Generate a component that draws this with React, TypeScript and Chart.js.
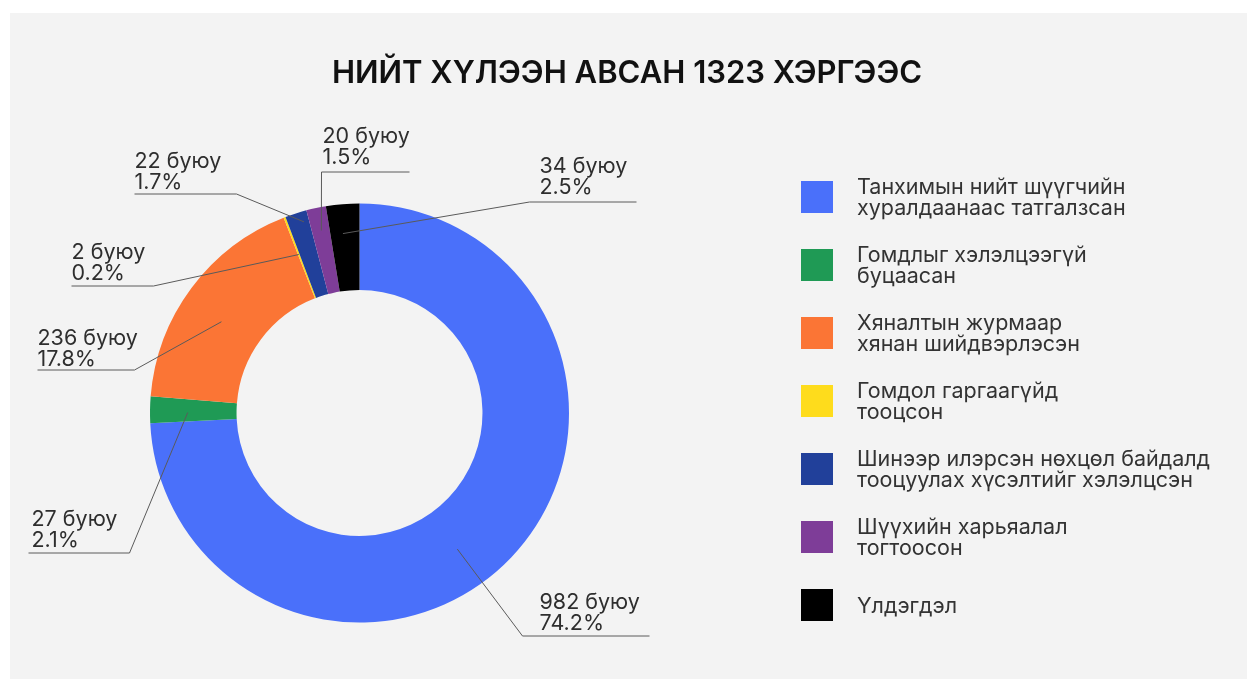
import React, { useEffect, useRef } from "react";
import { Chart, registerables } from "chart.js";

Chart.register(...registerables);

const TITLE = "НИЙТ ХҮЛЭЭН АВСАН 1323 ХЭРГЭЭС";

const categories: string[][] = [
  ["Танхимын нийт шүүгчийн", "хуралдаанаас татгалзсан"],
  ["Гомдлыг хэлэлцээгүй", "буцаасан"],
  ["Хяналтын журмаар", "хянан шийдвэрлэсэн"],
  ["Гомдол гаргаагүйд", "тооцсон"],
  ["Шинээр илэрсэн нөхцөл байдалд", "тооцуулах хүсэлтийг хэлэлцсэн"],
  ["Шүүхийн харьяалал", "тогтоосон"],
  ["Үлдэгдэл"],
];

const counts: number[] = [982, 27, 236, 2, 22, 20, 34];
const percentLabels: string[] = ["74.2%", "2.1%", "17.8%", "0.2%", "1.7%", "1.5%", "2.5%"];
const colors: string[] = ["#4a70fa", "#1f9a55", "#fb7535", "#fedc1c", "#21409a", "#7e3d98", "#000000"];

// Callout layout, in px relative to the doughnut centre (t: position along the arc, rf: fraction of outer radius)
type Callout = { t: number; rf: number; tx: number; b1: number; uy: number; ux1: number; ux2: number; side: "left" | "right" };
const callouts: Callout[] = [
  { t: 0.54, rf: 0.8, tx: 180, b1: 196, uy: 223, ux1: 163, ux2: 290, side: "left" },
  { t: 0.4, rf: 0.82, tx: -328, b1: 113, uy: 140, ux1: -331, ux2: -230, side: "right" },
  { t: 0.45, rf: 0.79, tx: -322, b1: -68, uy: -43, ux1: -322, ux2: -225, side: "right" },
  { t: 0.5, rf: 0.81, tx: -288, b1: -154, uy: -127, ux1: -288, ux2: -206, side: "right" },
  { t: 0.75, rf: 0.95, tx: -225, b1: -245, uy: -219, ux1: -225, ux2: -123, side: "right" },
  { t: 0.53, rf: 0.89, tx: -37, b1: -270, uy: -241, ux1: -38, ux2: 50, side: "left" },
  { t: 0.43, rf: 0.86, tx: 180, b1: -240, uy: -211, ux1: 170, ux2: 277, side: "left" },
];

const FONT = "Inter, 'Noto Sans', sans-serif";

const calloutPlugin = {
  id: "callouts",
  afterDatasetsDraw(chart: any) {
    const meta = chart.getDatasetMeta(0);
    const ctx = chart.ctx;
    ctx.save();
    meta.data.forEach((arc: any, i: number) => {
      const c = callouts[i];
      if (!c) return;
      const cx = arc.x;
      const cy = arc.y;
      const a = arc.startAngle + c.t * (arc.endAngle - arc.startAngle);
      const r = arc.outerRadius * c.rf;
      const px = cx + Math.cos(a) * r;
      const py = cy + Math.sin(a) * r;
      const ex = cx + (c.side === "left" ? c.ux1 : c.ux2);
      const ey = cy + c.uy;
      ctx.strokeStyle = "#5a5a5a";
      ctx.lineWidth = 1;
      ctx.beginPath();
      ctx.moveTo(px, py);
      ctx.lineTo(ex, ey);
      ctx.stroke();
      ctx.beginPath();
      ctx.moveTo(cx + c.ux1, ey);
      ctx.lineTo(cx + c.ux2, ey);
      ctx.stroke();
      ctx.fillStyle = "#2e2e2e";
      ctx.font = `21.5px ${FONT}`;
      ctx.textAlign = "left";
      ctx.textBaseline = "alphabetic";
      ctx.fillText(`${counts[i]} буюу`, cx + c.tx, cy + c.b1);
      ctx.fillText(percentLabels[i], cx + c.tx, cy + c.b1 + 21);
    });
    ctx.restore();
  },
};

export default function App() {
  const canvasRef = useRef<HTMLCanvasElement | null>(null);

  useEffect(() => {
    const canvas = canvasRef.current;
    if (!canvas) return;
    const chart = new Chart(canvas, {
      type: "doughnut",
      data: {
        labels: categories.map((c) => c.join(" ")),
        datasets: [
          {
            data: counts,
            backgroundColor: colors,
            borderWidth: 0,
            hoverOffset: 0,
          },
        ],
      },
      options: {
        responsive: false,
        maintainAspectRatio: false,
        animation: false,
        cutout: "58.7%",
        layout: { padding: { left: 140, top: 190, right: 678, bottom: 56 } },
        plugins: {
          legend: { display: false },
          title: { display: false },
          tooltip: { enabled: false },
        },
      },
      plugins: [calloutPlugin],
    });
    return () => chart.destroy();
  }, []);

  return (
    <div style={{ position: "absolute", left: 0, top: 0, width: 1247, height: 679, background: "#ffffff", overflow: "hidden", fontFamily: FONT }}>
      <div style={{ position: "absolute", left: 10, top: 13, width: 1237, height: 666, background: "#f3f3f3" }}>
        <canvas ref={canvasRef} width={1237} height={666} style={{ position: "absolute", left: 0, top: 0, width: 1237, height: 666 }} />
      </div>
      <div
        style={{
          position: "absolute",
          left: 0,
          width: 1254,
          top: 52,
          textAlign: "center",
          fontSize: 31,
          fontWeight: 600,
          color: "#111111",
          lineHeight: "40px",
          whiteSpace: "nowrap",
        }}
      >
        {TITLE}
      </div>
      <div style={{ position: "absolute", left: 801, top: 181 }}>
        {categories.map((lines, i) => (
          <div key={i} style={{ display: "flex", alignItems: "center", height: 32, marginBottom: 36 }}>
            <div style={{ width: 32, height: 32, background: colors[i], flex: "0 0 32px" }} />
            <div style={{ marginLeft: 24, fontSize: 21.5, lineHeight: "21px", color: "#333333", whiteSpace: "nowrap" }}>
              {lines.map((l, j) => (
                <div key={j}>{l}</div>
              ))}
            </div>
          </div>
        ))}
      </div>
    </div>
  );
}
